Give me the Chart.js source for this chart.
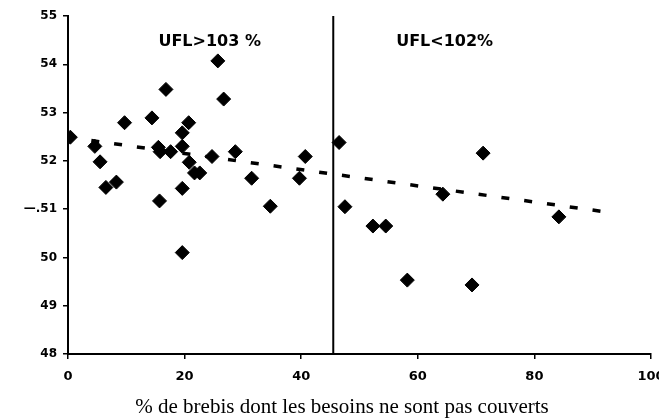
<!DOCTYPE html>
<html>
<head>
<meta charset="utf-8">
<script src="https://cdn.jsdelivr.net/npm/chart.js@4"></script>
<style>
  html, body { margin: 0; padding: 0; background: #fff; }
  #wrap { width: 659px; height: 418px; }
</style>
</head>
<body>
<div id="wrap"><canvas id="chart"></canvas></div>
<script>
const pctX = [0.4, 4.6, 5.5, 6.5, 8.3, 9.7, 14.4, 16.8, 15.5, 15.8, 17.6, 15.7, 19.6, 19.6, 20.7, 20.8,
              21.7, 22.6, 19.6, 19.6, 25.7, 26.7, 24.7, 28.7, 31.5, 34.7, 39.7, 40.7,
              46.5, 47.5, 52.3, 54.5, 58.2, 64.3, 69.3, 71.2, 84.2];
const valY = [52.49, 52.3, 51.98, 51.45, 51.56, 52.79, 52.89, 53.48, 52.28, 52.19, 52.19, 51.17, 52.3, 52.58, 52.79, 51.97,
              51.75, 51.75, 51.43, 50.1, 54.07, 53.28, 52.09, 52.19, 51.64, 51.06, 51.64, 52.09,
              52.38, 51.05, 50.65, 50.65, 49.53, 51.31, 49.43, 52.16, 50.84];

// droite de tendance (pointillés)
const trendX = [4, 93];
const trendY = [52.42, 50.93];

// séparation des deux groupes
const splitX = 45.5;

const groupLabels = ['UFL>103 %', 'UFL<102%'];
const groupLabelX = [24.3, 64.6];
const groupLabelY = 54.46;

const xLabel = '% de brebis dont les besoins ne sont pas couverts';

const points = pctX.map((x, i) => ({ x: x, y: valY[i] }));
const trend = trendX.map((x, i) => ({ x: x, y: trendY[i] }));

// textes: UFL dans la zone du graphe + titre de l'axe x (décalé à gauche comme l'original)
const extraText = {
    id: 'extraText',
    afterDraw(chart) {
        const ctx = chart.ctx;
        const xs = chart.scales.x, ys = chart.scales.y;
        ctx.save();
        ctx.fillStyle = '#000';
        ctx.font = 'bold 16px "DejaVu Sans"';
        ctx.textAlign = 'center';
        ctx.textBaseline = 'middle';
        groupLabels.forEach((t, i) => {
            ctx.fillText(t, xs.getPixelForValue(groupLabelX[i]), ys.getPixelForValue(groupLabelY));
        });
        ctx.font = '21px "Liberation Serif"';
        ctx.textBaseline = 'alphabetic';
        ctx.fillText(xLabel, xs.getPixelForValue(47), chart.height - 5);
        ctx.restore();
    }
};

const ctx = document.getElementById('chart').getContext('2d');
const chart = new Chart(ctx, {
    type: 'scatter',
    data: {
        datasets: [{
            data: points,
            backgroundColor: '#000',
            borderColor: '#000',
            borderWidth: 1,
            pointStyle: 'rectRot',
            pointRadius: 7,
            order: 1
        }, {
            type: 'line',
            data: trend,
            borderColor: '#000',
            borderWidth: 3.5,
            borderDash: [8, 15],
            pointRadius: 0,
            fill: false,
            order: 2
        }, {
            type: 'line',
            data: [{ x: splitX, y: 48 }, { x: splitX, y: 55 }],
            borderColor: '#000',
            borderWidth: 2,
            pointRadius: 0,
            fill: false,
            order: 3
        }]
    },
    options: {
        responsive: true,
        maintainAspectRatio: false,
        animation: false,
        layout: { padding: { top: 16, right: 6, left: 0, bottom: 0 } },
        plugins: {
            legend: { display: false },
            tooltip: { enabled: false }
        },
        scales: {
            x: {
                type: 'linear',
                min: 0,
                max: 100,
                afterFit(scale) {
                    scale.height = 64;
                    scale.paddingLeft = 0;
                    scale.paddingRight = 0;
                },
                border: { display: true, color: '#000', width: 2 },
                grid: { drawOnChartArea: false, drawTicks: true, tickLength: 5, color: '#000', lineWidth: 1.5 },
                ticks: {
                    stepSize: 20,
                    color: '#000',
                    padding: 10,
                    maxRotation: 0,
                    font: { family: 'DejaVu Sans', size: 13, weight: 'bold' }
                }
            },
            y: {
                type: 'linear',
                min: 48,
                max: 55,
                afterFit(scale) { scale.width = 68; },
                border: { display: true, color: '#000', width: 2 },
                grid: { drawOnChartArea: false, drawTicks: true, tickLength: 5, color: '#000', lineWidth: 1.5 },
                ticks: {
                    stepSize: 1,
                    color: '#000',
                    padding: 6,
                    font: { family: 'DejaVu Sans', size: 12, weight: 'bold' },
                    callback: function (v) { return v === 51 ? '\u2014.51' : String(v); }
                }
            }
        }
    },
    plugins: [extraText]
});
</script>
</body>
</html>
